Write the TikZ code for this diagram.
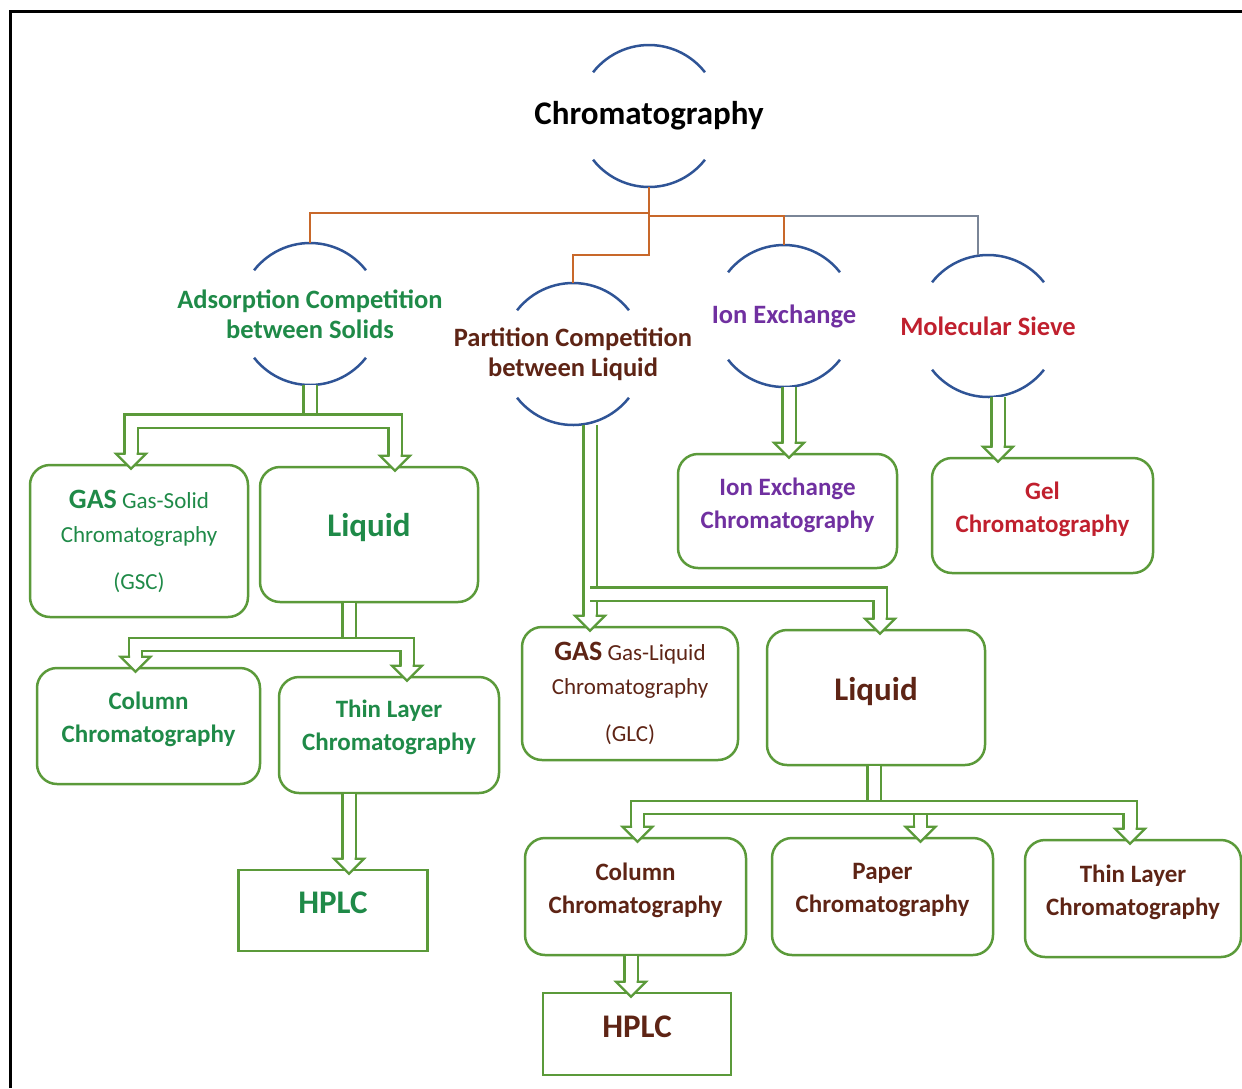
\documentclass[tikz,border=0pt]{standalone}
\usepackage{fontspec}
\setmainfont{Carlito}
\usepackage{tikz}
\usetikzlibrary{calc}
\definecolor{arcblue}{HTML}{2F5496}
\definecolor{orng}{HTML}{C8682A}
\definecolor{slate}{HTML}{7A8597}
\definecolor{boxgreen}{HTML}{5B9A3A}
\definecolor{grn}{HTML}{1F8A48}
\definecolor{brn}{HTML}{5E2415}
\definecolor{purp}{HTML}{7030A0}
\definecolor{rd}{HTML}{C0202E}
\newcommand{\rootfont}{\fontsize{33}{38}\selectfont\bfseries}
\newcommand{\ringfont}{\fontsize{26.5}{30}\selectfont\bfseries}
\newcommand{\boxfont}{\fontsize{25}{33}\selectfont\bfseries}
\newcommand{\gasfont}{\fontsize{23}{34}\selectfont}
\newcommand{\gasword}{{\fontsize{28}{34}\selectfont\bfseries GAS}}

\begin{document}
\begin{tikzpicture}[x=1pt, y=1pt,
  ring/.style={circle, minimum size=142pt, inner sep=0pt, outer sep=0pt},
  arcline/.style={arcblue, line width=2.5pt},
  tree/.style={orng, line width=2.5pt},
  box/.style={draw=boxgreen, line width=2.5pt, rounded corners=20pt, align=center, inner sep=0pt},
  hplcbox/.style={draw=boxgreen, line width=2.5pt, font=\rootfont, inner sep=0pt,
    minimum width=189pt, minimum height=81pt, text depth=15pt},
  hollow/.style={draw=boxgreen, line width=2.2pt, double=white, double distance=11pt},
  hhead/.pic={
    \fill[white] (-15,15) -- (0,0) -- (15,15) -- cycle;
    \draw[boxgreen, line width=2.2pt, line join=miter] (-5.5,15) -- (-15,15) -- (0,0) -- (15,15) -- (5.5,15);
  }]
\useasboundingbox (0,0) rectangle (1242,-1088);
\draw[line width=3pt] (10,-1088) -- (10,-11) -- (1242,-11);

% the ring nodes
\node[ring, label={[font=\rootfont]center:Chromatography}] (root) at (649,-116) {};
\node[ring, label={[text=grn, font=\ringfont, align=center]center:Adsorption Competition\\between Solids}] (ads) at (310,-314) {};
\node[ring, label={[text=brn, font=\ringfont, align=center]center:Partition Competition\\between Liquid}] (part) at (573,-354) {};
\node[ring, label={[text=purp, font=\ringfont]center:Ion Exchange}] (ion) at (784,-316) {};
\node[ring, label={[text=rd, font=\ringfont]center:Molecular Sieve}] (sieve) at (988,-326) {};

\foreach \n in {root,ads,part,ion,sieve}{
  \draw[arcline] (\n.142) arc[start angle=142, end angle=38, radius=71];
  \draw[arcline] (\n.218) arc[start angle=218, end angle=322, radius=71];
}

% the boxes
\node[box, text=grn, font=\gasfont, minimum width=218pt, minimum height=152pt] (gsc) at (139,-541)
  {\gasword{} Gas-Solid\\Chromatography\\[13pt](GSC)};
\node[box, text=grn, font=\rootfont, minimum width=218pt, minimum height=135pt, text depth=20pt] (liqA) at (369,-534.5) {Liquid};
\node[box, text=grn, font=\boxfont, minimum width=223pt, minimum height=116pt, text depth=17pt] (colA) at (148.5,-726) {Column\\Chromatography};
\node[box, text=grn, font=\boxfont, minimum width=220pt, minimum height=116pt, text depth=19pt] (thinA) at (389,-735) {Thin Layer\\Chromatography};
\node[hplcbox, text=grn] (hplcA) at (333,-910.5) {HPLC};
\node[box, text=purp, font=\boxfont, minimum width=219pt, minimum height=114pt, text depth=16pt] (ionC) at (787.5,-511) {Ion Exchange\\Chromatography};
\node[box, text=rd, font=\boxfont, minimum width=221pt, minimum height=115pt, text depth=16pt] (gel) at (1042.5,-515.5) {Gel\\Chromatography};
\node[box, text=brn, font=\gasfont, minimum width=216pt, minimum height=133pt] (glc) at (630,-693.5)
  {\gasword{} Gas-Liquid\\Chromatography\\[13pt](GLC)};
\node[box, text=brn, font=\rootfont, minimum width=218pt, minimum height=135pt, text depth=18pt] (liqB) at (876,-697.5) {Liquid};
\node[box, text=brn, font=\boxfont, minimum width=221pt, minimum height=117pt, text depth=17pt] (colB) at (635.5,-896.5) {Column\\Chromatography};
\node[box, text=brn, font=\boxfont, minimum width=221pt, minimum height=117pt, text depth=17pt] (paper) at (882.5,-896.5) {Paper\\Chromatography};
\node[box, text=brn, font=\boxfont, minimum width=216pt, minimum height=117pt, text depth=17pt] (thinB) at (1133,-898.5) {Thin Layer\\Chromatography};
\node[hplcbox, text=brn, minimum width=188pt, minimum height=82pt] (hplcB) at (637,-1034) {HPLC};

% tree lines from the top
\draw[slate, line width=1.5pt] (root.south) -- ++(0,-29) -| ($(sieve.north)+(-10,0)$);
\draw[tree] (root.south) -- ++(0,-26) -| (ads.north);
\draw[tree] (root.south) -- ++(0,-29) -| (ion.north);
\draw[tree] (root.south) -- ++(0,-68) -| (part.north);

% hollow arrows, left branch
\draw[hollow] (ads.south) -- ++(0,-33);
\draw[hollow] ($(gsc.north)+(-8,10)$) |- ($(ads.south)+(0,-36)$) -| ($(liqA.north)+(26,10)$);
\pic at ($(gsc.north)+(-8,-5)$) {hhead};
\pic at ($(liqA.north)+(26,-5)$) {hhead};

\draw[hollow] ($(liqA.south)+(-20,0)$) -- ++(0,-38);
\draw[hollow] ($(colA.north)+(-13,10)$) |- ($(liqA.south)+(-20,-41)$) -| ($(thinA.north)+(18,10)$);
\pic at ($(colA.north)+(-13,-5)$) {hhead};
\pic at ($(thinA.north)+(18,-5)$) {hhead};

\draw[hollow] ($(thinA.south)+(-40,0)$) -- ($(hplcA.north)+(16,10)$);
\pic at ($(hplcA.north)+(16,-5)$) {hhead};

% hollow arrows, middle and right
\draw[hollow] ($(part.south)+(17,0)$) -- ($(glc.north)+(-40,10)$);
\draw[hollow] ($(part.south)+(17,-169)$) -| ($(liqB.north)+(4,10)$);
\pic at ($(glc.north)+(-40,-5)$) {hhead};
\pic at ($(liqB.north)+(4,-5)$) {hhead};

\draw[hollow] ($(ion.south)+(5,0)$) -- ($(ionC.north)+(1.5,10)$);
\pic at ($(ionC.north)+(1.5,-5)$) {hhead};

\draw[hollow] ($(sieve.south)+(10,0)$) -- ($(gel.north)+(-44.5,10)$);
\pic at ($(gel.north)+(-44.5,-5)$) {hhead};

\draw[hollow] ($(liqB.south)+(-2,0)$) -- ++(0,-38);
\draw[hollow] ($(paper.north)+(38,10)$) -- ++(0,22);
\draw[hollow] ($(colB.north)+(2,10)$) |- ($(liqB.south)+(-2,-41)$) -| ($(thinB.north)+(-3,10)$);
\pic at ($(colB.north)+(2,-5)$) {hhead};
\pic at ($(paper.north)+(38,-5)$) {hhead};
\pic at ($(thinB.north)+(-3,-5)$) {hhead};

\draw[hollow] ($(colB.south)+(-4.5,0)$) -- ($(hplcB.north)+(-6,10)$);
\pic at ($(hplcB.north)+(-6,-5)$) {hhead};

\end{tikzpicture}
\end{document}
